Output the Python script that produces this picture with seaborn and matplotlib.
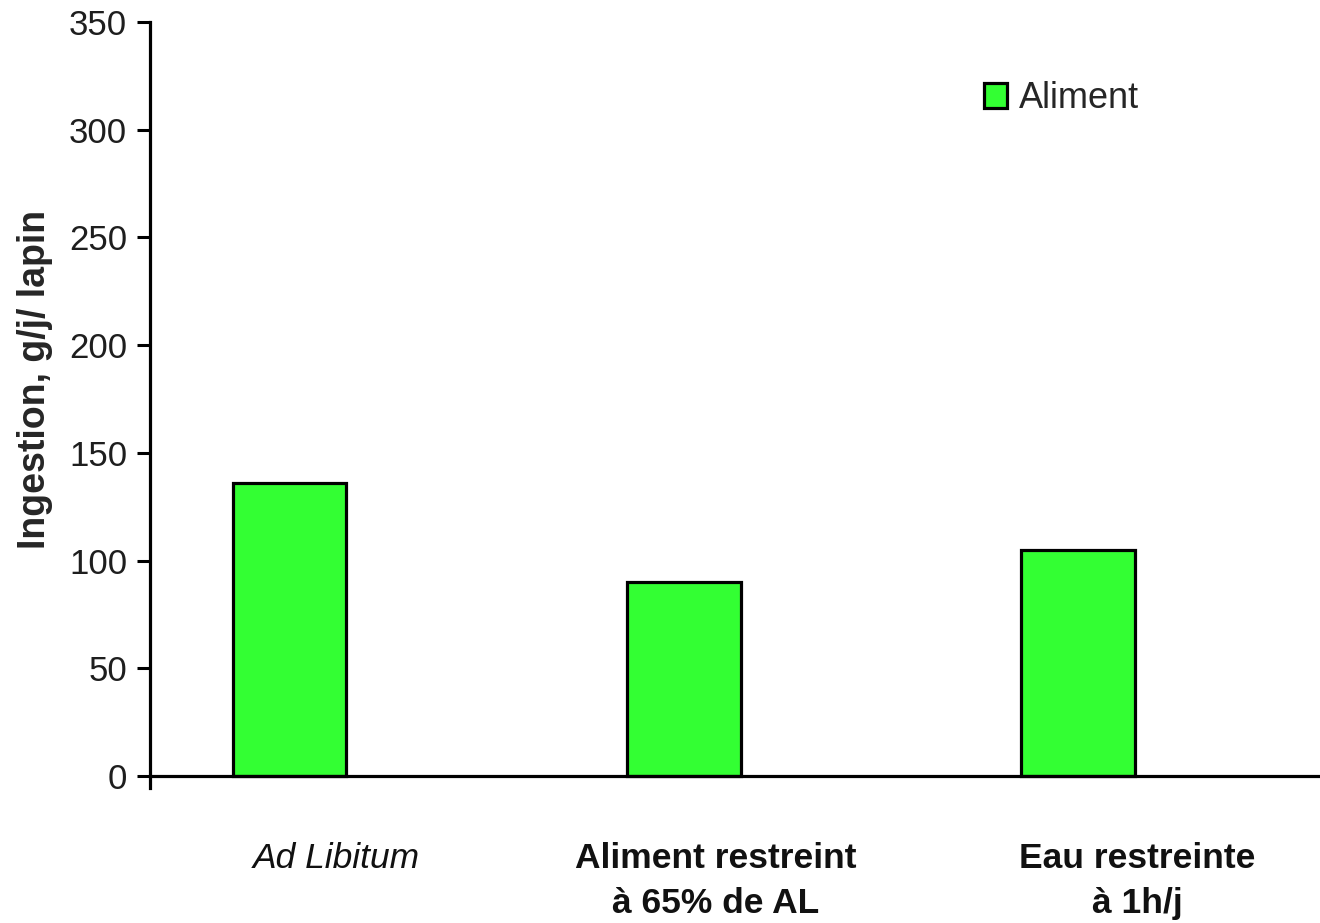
import matplotlib
matplotlib.use("Agg")
import matplotlib.pyplot as plt
import matplotlib.transforms as mtransforms
from matplotlib.patches import Patch
import pandas as pd
import seaborn as sns

# Daily intake per rabbit under three feeding regimes
groupes = ["Ad Libitum", "Aliment restreint\nà 65% de AL", "Eau restreinte\nà 1h/j"]
ingestion = [136, 90, 105]
serie = "Aliment"
yticks = [0, 50, 100, 150, 200, 250, 300, 350]

sns.set_theme(style="white")
plt.rcParams["font.family"] = ["Liberation Sans", "DejaVu Sans"]

df = pd.DataFrame({"groupe": groupes, "ingestion": ingestion})

fig = plt.figure(figsize=(13.2, 9.23), dpi=100)
ax = fig.add_axes([150 / 1320, 1 - 788 / 923, 1 - 150 / 1320, (788 - 22) / 923])

vert = "#33ff33"
sns.barplot(data=df, x="groupe", y="ingestion", color=vert, saturation=1,
            edgecolor="black", linewidth=2.3, width=0.287, ax=ax)

ax.set_xlim(-0.355, 2.614)
ax.set_ylim(-5.5, 350)
ax.set_yticks(yticks)
ax.set_yticklabels([str(t) for t in yticks], fontsize=25, color="#1e1e1e")

for side in ("top", "right"):
    ax.spines[side].set_visible(False)
ax.spines["left"].set_linewidth(2.3)
ax.spines["left"].set_color("black")
ax.spines["bottom"].set_linewidth(2.3)
ax.spines["bottom"].set_color("black")
ax.spines["bottom"].set_position(("data", 0))

ax.tick_params(axis="y", which="major", direction="out", length=9.5, width=2.2,
               color="black", pad=7, left=True)
ax.tick_params(axis="x", length=0, pad=0)

ax.set_xlabel("")
ax.set_ylabel("Ingestion, g/j/ lapin", fontsize=27, fontweight="bold")
ax.yaxis.set_label_coords(-0.083, 0.534)

# Category labels sit below the baseline, each nudged to the right
ax.set_xticks(range(len(groupes)))
ax.set_xticklabels(groupes, fontsize=25.5, linespacing=1.45, va="top", color="#111111")
decalages = [46, 32, 59]
for lab, dx in zip(ax.get_xticklabels(), decalages):
    offset = mtransforms.ScaledTranslation(dx / 100, -66 / 100, fig.dpi_scale_trans)
    lab.set_transform(lab.get_transform() + offset)
for i, lab in enumerate(ax.get_xticklabels()):
    if i == 0:
        lab.set_fontstyle("italic")
    else:
        lab.set_fontweight("bold")

handle = Patch(facecolor=vert, edgecolor="black", linewidth=2.3, label=serie)
fig.legend(handles=[handle], loc="upper left",
           bbox_to_anchor=(984 / 1320, 1 - 81 / 923), frameon=False,
           fontsize=26, handlelength=0.65, handleheight=0.7, handletextpad=0.33,
           borderpad=0, borderaxespad=0)

fig.savefig("out.png", dpi=100, facecolor="white")
